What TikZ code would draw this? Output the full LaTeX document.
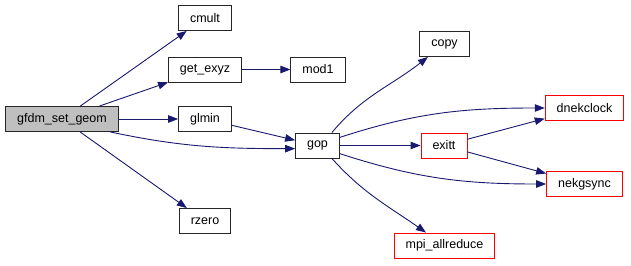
\documentclass[tikz,border=0pt]{standalone}
\usepackage{fontspec}
\setmainfont{Liberation Sans}
\usetikzlibrary{arrows.meta}
\definecolor{edgeblue}{HTML}{191970}
\definecolor{fnred}{HTML}{FF0000}
\tikzset{
  fn/.style={draw=black!85, line width=0.9pt, fill=white, inner xsep=11.5pt, inner ysep=0pt,
    minimum height=25pt, font=\fontsize{12.5}{14}\selectfont},
  fnred/.style={fn, draw=fnred},
  call/.style={draw=edgeblue, line width=0.9pt, -{Triangle[length=10pt,width=7.5pt]}}
}
\begin{document}
\begin{tikzpicture}[x=1pt, y=-1pt]
\useasboundingbox (0,0) rectangle (631,265);

\node[fn, fill=black!25] (gfdm) at (62,119) {gfdm\_set\_geom};

\node[fn] (cmult) at (205,18) {cmult};
\node[fn] (exyz) at (205,69.5) {get\_exyz};
\node[fn] (glmin) at (205,119) {glmin};
\node[fn] (rzero) at (205,221) {rzero};

\node[fn] (mod1) at (318,69.5) {mod1};
\node[fn] (gop) at (317.5,145.5) {gop};

\node[fn] (copy) at (444.5,44) {copy};
\node[fnred] (exitt) at (444,145.5) {exitt};
\node[fnred] (allred) at (444.5,245.5) {mpi\_allreduce};

\node[fnred] (clock) at (584.5,108) {dnekclock};
\node[fnred] (gsync) at (584.5,184) {nekgsync};

\draw[call] (gfdm) -- (cmult);
\draw[call] (gfdm) -- (exyz);
\draw[call] (gfdm) -- (glmin);
\draw[call] (gfdm) -- (rzero);
\draw[call] (gfdm.-15) to[out=-12,in=180] (gop.-172);

\draw[call] (exyz) -- (mod1);
\draw[call] (glmin) -- (gop);

\draw[call] (gop.42) to[out=50,in=-142] (copy);
\draw[call] (gop.20) to[out=18,in=180] (clock);
\draw[call] (gop) -- (exitt);
\draw[call] (gop.-20) to[out=-18,in=180] (gsync);
\draw[call] (gop.-42) to[out=-48,in=145] (allred);

\draw[call] (exitt) -- (clock);
\draw[call] (exitt) -- (gsync);
\end{tikzpicture}
\end{document}
